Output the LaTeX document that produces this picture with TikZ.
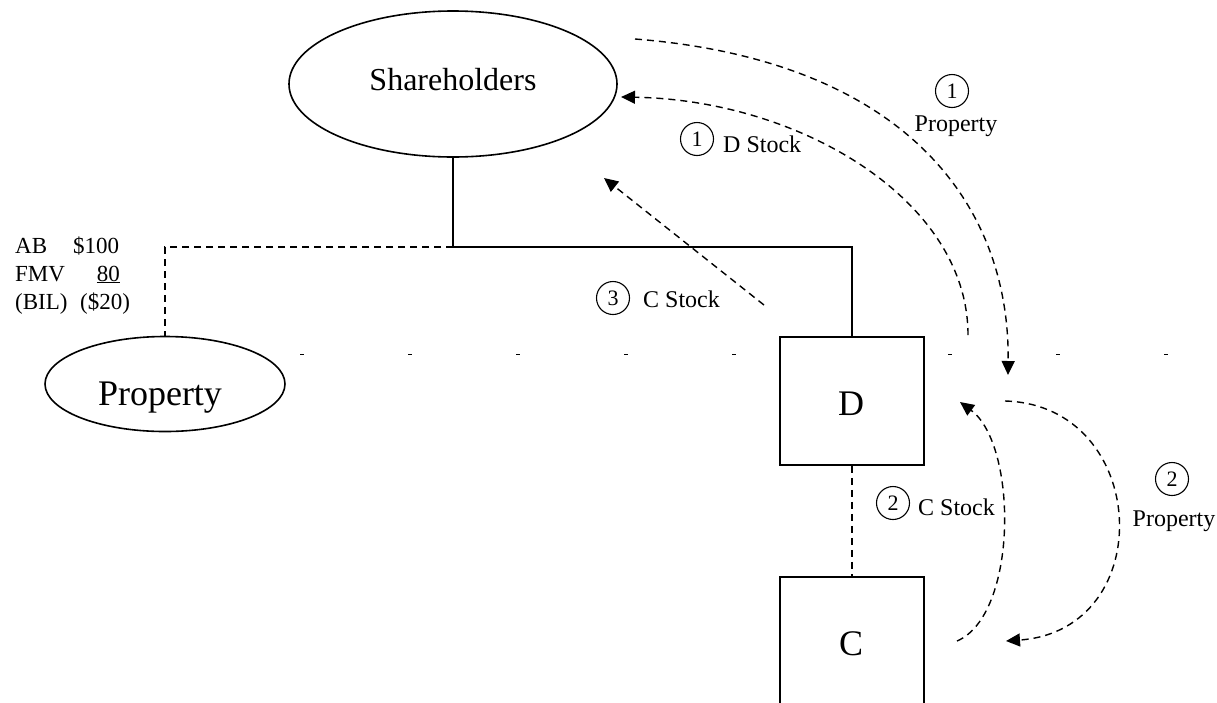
\documentclass[tikz,border=0pt]{standalone}
\usepackage{fontspec}
\setmainfont{Liberation Serif}
\usetikzlibrary{shapes.geometric,arrows.meta}
\begin{document}
\begin{tikzpicture}[x=1pt,y=-1pt,
  entity/.style={draw, ellipse, line width=1.6pt, inner sep=0pt},
  corp/.style={draw, fill=white, line width=1.8pt, minimum width=144pt, minimum height=128pt, inner sep=0pt},
  link/.style={line width=1.6pt},
  tie/.style={line width=1.4pt, dash pattern=on 7pt off 5pt},
  flow/.style={line width=1.4pt, dash pattern=on 7pt off 5pt, -{Triangle[length=14pt,width=13pt]}},
  lbl/.style={inner sep=0pt, font=\fontsize{24}{28}\selectfont},
  note/.style={inner sep=0pt, font=\fontsize{23}{27}\selectfont},
  big/.style={inner sep=0pt, font=\fontsize{36}{40}\selectfont},
  num/.style={draw, circle, line width=1.1pt, minimum size=33pt, inner sep=0pt, font=\fontsize{22}{24}\selectfont}
]
\useasboundingbox (0,0) rectangle (1217,702);
\clip (0,0) rectangle (1217,702);

% separator line of short ticks
\draw[line width=1pt, dash pattern=on 4pt off 104pt] (300,354) -- (1170,354);

% entities
\node[entity, minimum width=328pt, minimum height=146pt] (sh) at (453,84) {};
\node[lbl, anchor=base, font=\fontsize{32}{36}\selectfont] (shtxt) at (453,90) {Shareholders};
\node[entity, minimum width=240pt, minimum height=95pt] (prop) at (165,384) {};
\node[big, anchor=base] (proptxt) at (160,405) {Property};

\node[corp] (D) at (852,401) {};
\node[big, anchor=base] (Dtxt) at (851,415) {D};
\node[corp] (C) at (852,641) {};
\node[big, anchor=base] (Ctxt) at (851,655) {C};

% ownership lines
\coordinate (j) at (453,247);
\draw[link] (sh.south) -- (j) -| (D.north);
\draw[tie] (j) -| (prop.north);
\draw[tie] (D.south) -- (C.north);

% basis note
\node[note, anchor=base west] (ab) at (15,253) {AB};
\node[note, anchor=base west] (abv) at (73,253) {\$100};
\node[note, anchor=base west] (fmv) at (15,281) {FMV};
\node[note, anchor=base east] (fmvv) at (120,281) {\underline{80}};
\node[note, anchor=base west] (bil) at (15,309) {(BIL)};
\node[note, anchor=base west] (bilv) at (80,309) {(\$20)};

% step 1
\coordinate (a1s) at (635,39);
\coordinate (a1e) at (1008,375);
\draw[flow] (a1s) .. controls (900,60) and (1010,200) .. (a1e);
\node[num] (n1a) at (952,91) {1};
\node[lbl, anchor=base] (l1a) at (956,131) {Property};

\coordinate (b1s) at (968,335);
\coordinate (b1e) at (621,97);
\draw[flow] (b1s) .. controls (968,200) and (800,100) .. (b1e);
\node[num] (n1b) at (697,139) {1};
\node[lbl, anchor=base west] (l1b) at (723,152) {D Stock};

% step 2
\coordinate (a2s) at (1005,401);
\coordinate (a2e) at (1006,641);
\draw[flow] (a2s) .. controls (1150,405) and (1160,630) .. (a2e);
\node[num] (n2a) at (1172,479) {2};
\node[lbl, anchor=base] (l2a) at (1174,526) {Property};

\coordinate (b2s) at (957,641);
\coordinate (b2e) at (960,402);
\draw[flow] (b2s) .. controls (1018,615) and (1018,445) .. (b2e);
\node[num] (n2b) at (893,503) {2};
\node[lbl, anchor=base west] (l2b) at (918,515) {C Stock};

% step 3
\coordinate (c3s) at (764,305);
\coordinate (c3e) at (604,178);
\draw[flow] (c3s) -- (c3e);
\node[num] (n3) at (613,298) {3};
\node[lbl, anchor=base west] (l3) at (643,307) {C Stock};
\end{tikzpicture}
\end{document}
